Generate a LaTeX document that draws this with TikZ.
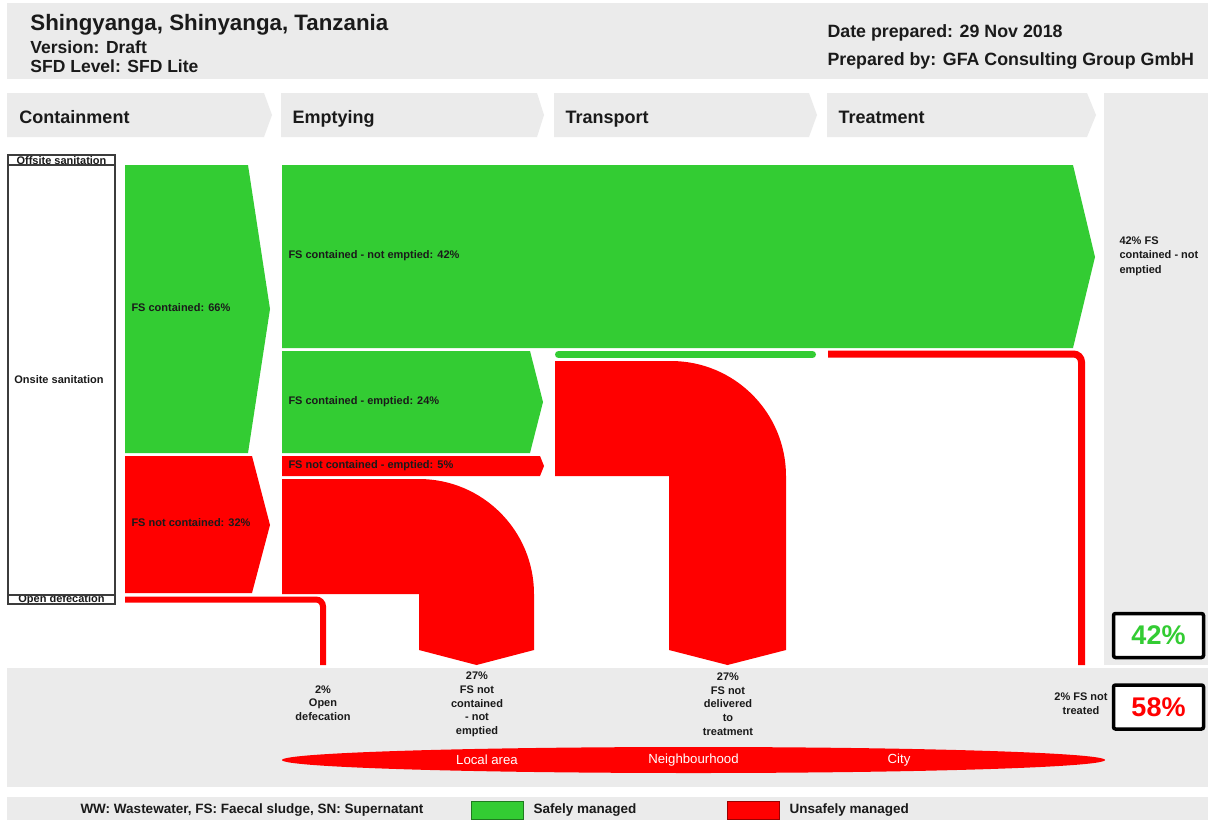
\documentclass[tikz,border=0pt]{standalone}
\usepackage{fontspec}
\setmainfont{Liberation Sans}
\usetikzlibrary{positioning,shapes.geometric}
\definecolor{ink}{HTML}{1A1A1A}
\definecolor{panel}{HTML}{EBEBEB}
\definecolor{sgreen}{HTML}{33CC33}
\definecolor{sred}{HTML}{FF0000}
\newcommand{\fsz}[2]{\fontsize{#1}{#2}\selectfont}
\tikzset{
  every picture/.style={line width=1pt},
  band/.style={fill=panel,draw=none},
  safe/.style={fill=sgreen,draw=none},
  unsafe/.style={fill=sred,draw=none},
  pipe/.style={draw=sred,line width=6.5pt,rounded corners=7pt},
  hd/.style={font=\bfseries\fsz{17.8}{20},text=ink,anchor=base west,inner sep=0pt},
  stg/.style={font=\bfseries\fsz{18}{21},text=ink,anchor=base west,inner sep=0pt},
  fl/.style={font=\bfseries\fsz{11}{13},text=ink,anchor=base west,inner sep=0pt},
  sys/.style={font=\bfseries\fsz{11}{13},text=ink,inner sep=0pt},
  result/.style={font=\bfseries\fsz{11}{13.7},text=ink,align=center,inner sep=0pt},
  score/.style={draw=black,line width=3.5pt,fill=white,rounded corners=2pt,minimum width=90pt,minimum height=44pt,inner sep=0pt,font=\bfseries\fsz{27}{30}},
  zone/.style={font=\fsz{13.2}{15},text=white,inner sep=0pt},
  key/.style={font=\bfseries\fsz{13.5}{15},text=ink,anchor=west,inner sep=0pt},
  keybox/.style={minimum width=52pt,minimum height=18pt,inner sep=0pt,line width=0.8pt},
}
\begin{document}
\begin{tikzpicture}[x=1pt,y=-1pt]
  \useasboundingbox[fill=white] (0,0) rectangle (1208,820);
  \fill[band] (7,3) rectangle (1208,79);
  \fill[band] (1104,93) rectangle (1208,665);
  \fill[band] (7,668) rectangle (1208,787);
  \fill[band] (7,797) rectangle (1208,820);
  \fill[band] (7,93) -- (264,93) -- (272,115) -- (264,137) -- (7,137) -- cycle;
  \fill[band] (281,93) -- (537,93) -- (544,115) -- (537,137) -- (281,137) -- cycle;
  \fill[band] (554,93) -- (809,93) -- (817,115) -- (809,137) -- (554,137) -- cycle;
  \fill[band] (827,93) -- (1087,93) -- (1096,115) -- (1087,137) -- (827,137) -- cycle;

  \node[hd,font=\bfseries\fsz{22.3}{24}] (title) at (30,30) {Shingyanga, Shinyanga, Tanzania};
  \node[hd,font=\bfseries\fsz{17.5}{19}] (version) at (30,53) {Version: Draft};
  \node[hd,font=\bfseries\fsz{17.5}{19}] (level) at (30,72) {SFD Level: SFD Lite};
  \node[hd] (date) at (827,37) {Date prepared: 29 Nov 2018};
  \node[hd] (prepby) at (827,65) {Prepared by: GFA Consulting Group GmbH};

  \node[stg] (stcont) at (19,123) {Containment};
  \node[stg] (stempt) at (292,123) {Emptying};
  \node[stg] (sttrans) at (565,123) {Transport};
  \node[stg] (sttreat) at (838,123) {Treatment};

  \node[sys] (offsite) at (61.5,160.5) {Offsite sanitation};
  \node[sys] (onsite) at (59,380) {Onsite sanitation};
  \node[sys] (opendef) at (61.5,599.5) {Open defecation};
  \draw[ink!85,line width=1.3pt] (8,155) rectangle (115,604);
  \draw[ink!85,line width=1.3pt] (8,165) -- (115,165);
  \draw[ink!85,line width=1.3pt] (8,595) -- (115,595);

  \fill[safe] (125,165) -- (248,165) -- (270,309) -- (248,453) -- (125,453) -- cycle;
  \fill[unsafe] (125,456) -- (252,456) -- (270,525) -- (252,593) -- (125,593) -- cycle;
  \draw[pipe,line width=6pt] (125,599.5) -- (323,599.5) -- (323,665);

  \fill[safe] (282,165) -- (1073,165) -- (1095,257) -- (1073,348) -- (282,348) -- cycle;
  \fill[safe] (282,351) -- (530,351) -- (543,402) -- (530,453) -- (282,453) -- cycle;
  \fill[unsafe] (282,456) -- (540,456) -- (544,466) -- (540,476) -- (282,476) -- cycle;
  \fill[unsafe] (282,479) -- (419,479) .. controls (482.5,479) and (534,530.5) .. (534,594)
    -- (534,650) -- (476.5,665) -- (419,650) -- (419,594) -- (282,594) -- cycle;

  \draw[sgreen,line width=7pt,line cap=round] (558.5,354.5) -- (812.5,354.5);
  \fill[unsafe] (555,361) -- (671,361) .. controls (734.5,361) and (786,412.5) .. (786,476)
    -- (786,650) -- (727.5,665) -- (669,650) -- (669,476) -- (555,476) -- cycle;
  \draw[pipe,line width=7pt,rounded corners=8pt] (828,354) -- (1081.5,354) -- (1081.5,665);

  \node[fl] (lcont) at (131,311) {FS contained: 66\%};
  \node[fl] (lnotcont) at (131,526) {FS not contained: 32\%};
  \node[fl] (lnotempt) at (288,258) {FS contained - not emptied: 42\%};
  \node[fl] (lempt) at (288,404) {FS contained - emptied: 24\%};
  \node[fl] (lnotcempt) at (288,468) {FS not contained - emptied: 5\%};

  \node[sys,align=left,anchor=west,font=\bfseries\fsz{11}{14.5}] (ltreat) at (1119,256) {42\% FS\\contained - not\\emptied};
  \node[score,text=sgreen] (safepct) at (1158.5,635.5) {42\%};
  \node[score,text=sred] (unsafepct) at (1158.5,707) {58\%};

  \node[result] (odout) at (323,703) {2\%\\Open\\defecation};
  \node[result] (ncout) at (477,704.5) {27\%\\FS not\\contained\\- not\\emptied};
  \node[result] (ndout) at (728,704) {27\%\\FS not\\delivered\\to\\treatment};
  \node[result] (ntout) at (1081,703.5) {2\% FS not\\treated};

  \node[ellipse,fill=sred,minimum width=823pt,minimum height=26pt,inner sep=0pt] (reach) at (693.5,760) {};
  \node[zone] (local) at (487,760) {Local area};
  \node[zone] (neigh) at (693.5,760) {Neighbourhood};
  \node[zone] (city) at (899,760) {City};

  \node[key] (abbr) at (80,810) {WW: Wastewater, FS: Faecal sludge, SN: Supernatant};
  \node[keybox,fill=sgreen,draw=sgreen!60!black] (keysafe) at (497.5,810) {};
  \node[key] (lsafe) at (533,810) {Safely managed};
  \node[keybox,fill=sred,draw=sred!60!black] (keyunsafe) at (753.5,810) {};
  \node[key] (lunsafe) at (789,810) {Unsafely managed};
\end{tikzpicture}
\end{document}
